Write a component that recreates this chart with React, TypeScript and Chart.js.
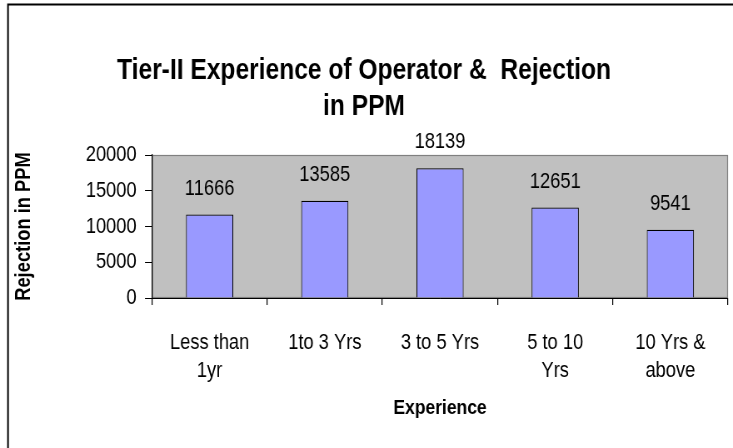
import React, { useEffect, useRef } from "react";
import { Chart, registerables } from "chart.js";

Chart.register(...registerables);

const categories: string[][] = [
  ["Less than", "1yr"],
  ["1to 3 Yrs"],
  ["3 to 5 Yrs"],
  ["5 to 10", "Yrs"],
  ["10 Yrs &", "above"],
];
const rejectionPPM: number[] = [11666, 13585, 18139, 12651, 9541];
const yTickValues: number[] = [0, 5000, 10000, 15000, 20000];
const titleLines: string[] = ["Tier-II Experience of Operator &  Rejection", "in PPM"];
const xAxisTitle = "Experience";
const yAxisTitle = "Rejection in PPM";

const FONT = "'Liberation Sans', Arial, Helvetica, sans-serif";

// The picture is drawn on a wider canvas that is shown condensed horizontally,
// which mimics the narrow typeface of the original.
const W = 733;
const H = 448;
const INNER_W = 880;
const SX = INNER_W / W; // internal px per screen px

const framePlugin = {
  id: "frame",
  beforeDraw(chart: any) {
    const { ctx, chartArea } = chart;
    ctx.save();
    ctx.fillStyle = "#ffffff";
    ctx.fillRect(0, 0, chart.width, chart.height);
    ctx.strokeStyle = "#000000";
    ctx.lineWidth = 2;
    ctx.beginPath();
    ctx.moveTo(8 * SX, H + 10);
    ctx.lineTo(8 * SX, 4.5);
    ctx.lineTo(chart.width + 10, 4.5);
    ctx.stroke();
    ctx.fillStyle = "#C0C0C0";
    ctx.fillRect(chartArea.left, chartArea.top, chartArea.right - chartArea.left, chartArea.bottom - chartArea.top);
    ctx.strokeStyle = "#808080";
    ctx.lineWidth = 1.2;
    ctx.strokeRect(chartArea.left + 0.5, chartArea.top + 0.5, chartArea.right - chartArea.left - 1, chartArea.bottom - chartArea.top - 1);
    ctx.restore();
  },
};

// y-axis title: rotated bold text, kept narrow along its length and full in thickness
const yTitlePlugin = {
  id: "yTitle",
  afterDraw(chart: any) {
    const { ctx, chartArea } = chart;
    const cx = 24 * SX;
    const cy = (chartArea.top + chartArea.bottom) / 2;
    ctx.save();
    ctx.translate(cx, cy);
    ctx.rotate(-Math.PI / 2);
    ctx.scale(1 / SX, SX);
    ctx.font = `bold 22px ${FONT}`;
    ctx.fillStyle = "#000000";
    ctx.textAlign = "center";
    ctx.textBaseline = "middle";
    ctx.fillText(yAxisTitle, 0, 0);
    ctx.restore();
  },
};

const valueLabelPlugin = {
  id: "valueLabels",
  afterDatasetsDraw(chart: any) {
    const { ctx } = chart;
    const meta = chart.getDatasetMeta(0);
    const data = chart.data.datasets[0].data as number[];
    ctx.save();
    ctx.font = `22px ${FONT}`;
    ctx.fillStyle = "#000000";
    ctx.textAlign = "center";
    ctx.textBaseline = "middle";
    meta.data.forEach((bar: any, i: number) => {
      ctx.fillText(String(data[i]), bar.x, bar.y - 26);
    });
    ctx.restore();
  },
};

export default function App() {
  const canvasRef = useRef<HTMLCanvasElement | null>(null);

  useEffect(() => {
    document.body.style.margin = "0";
    const canvas = canvasRef.current;
    if (!canvas) return;
    const chart = new Chart(canvas, {
      type: "bar",
      data: {
        labels: categories,
        datasets: [
          {
            data: rejectionPPM,
            backgroundColor: "#9999FF",
            borderColor: "#000000",
            borderWidth: 1.1,
            barPercentage: 0.41,
            categoryPercentage: 1,
          },
        ],
      },
      options: {
        responsive: false,
        animation: false,
        devicePixelRatio: 1,
        layout: { padding: { left: 0, right: 6, top: 0, bottom: 0 } },
        plugins: {
          legend: { display: false },
          tooltip: { enabled: false },
          title: {
            display: true,
            text: titleLines,
            color: "#000000",
            font: { family: FONT, size: 29.5, weight: "bold", lineHeight: 36 / 29.5 },
            padding: { top: 53, bottom: 30 },
          },
        },
        scales: {
          x: {
            grid: {
              display: true,
              drawOnChartArea: false,
              drawTicks: true,
              tickLength: 7,
              lineWidth: 1.2,
              color: "#000000",
              offset: true,
            },
            border: { display: true, color: "#000000", width: 1 },
            ticks: {
              color: "#000000",
              font: { family: FONT, size: 22, lineHeight: 28 / 22 },
              padding: 24,
              maxRotation: 0,
              minRotation: 0,
              autoSkip: false,
            },
            title: {
              display: true,
              text: xAxisTitle,
              color: "#000000",
              font: { family: FONT, size: 21, weight: "bold", lineHeight: 1.2 },
              padding: { top: 0, bottom: 27 },
            },
            afterFit: (s: any) => {
              s.height = 150;
            },
          },
          y: {
            min: 0,
            max: 20000,
            afterBuildTicks: (s: any) => {
              s.ticks = yTickValues.map((v) => ({ value: v }));
            },
            grid: {
              display: true,
              drawOnChartArea: false,
              drawTicks: true,
              tickLength: 7 * SX,
              color: "#000000",
            },
            border: { display: true, color: "#000000", width: 1.2 },
            ticks: {
              color: "#000000",
              font: { family: FONT, size: 22 },
              padding: 10,
              callback: (v: any) => String(v),
            },
            title: { display: false, text: yAxisTitle },
            afterFit: (s: any) => {
              s.width = 152 * SX;
            },
          },
        },
      },
      plugins: [framePlugin, valueLabelPlugin, yTitlePlugin],
    });
    return () => chart.destroy();
  }, []);

  return (
    <canvas
      ref={canvasRef}
      width={INNER_W}
      height={H}
      style={{ display: "block", width: `${W}px`, height: `${H}px` }}
    />
  );
}
